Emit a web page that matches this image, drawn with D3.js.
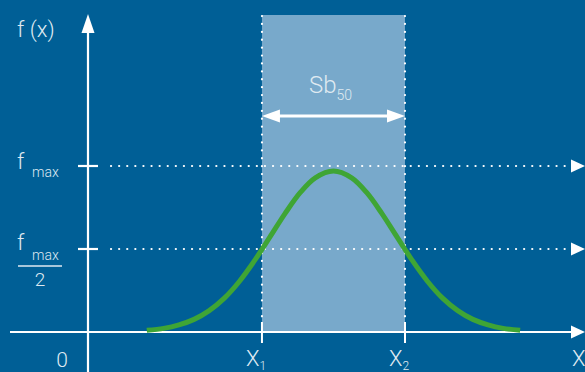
<!DOCTYPE html>
<html>
<head>
<meta charset="utf-8">
<script src="https://cdn.jsdelivr.net/npm/d3@7"></script>
<style>
html,body{margin:0;padding:0;background:#005f96;}
svg{display:block;}
text{font-family:Roboto,"Open Sans",sans-serif;font-weight:300;fill:#dfe9f1;}
</style>
</head>
<body>
<svg id="chart" width="585" height="372"></svg>
<script>
// ---- data (x in abscissa units, f relative to f max) ----
const curveX = [0.97, 1.25, 1.5, 1.75, 2.0, 2.25, 2.5, 2.75, 3.0, 3.25, 3.5, 3.75, 4.05, 4.35, 4.6, 4.85, 5.1, 5.35, 5.6, 5.85, 6.1, 6.35, 6.6, 6.85, 7.13];
const curveF = [0.010, 0.022, 0.043, 0.076, 0.129, 0.204, 0.306, 0.431, 0.571, 0.713, 0.839, 0.929, 0.97, 0.929, 0.839, 0.713, 0.571, 0.431, 0.306, 0.204, 0.129, 0.076, 0.043, 0.022, 0.010];
const bandX = [2.87, 5.23];           // X1, X2
const levelF = [1, 0.5];              // f max, f max / 2
const xTickLabels = ["X", "X", "X"];
const xTickSubs = ["1", "2", ""];
const bandLabel = "Sb";
const bandSub = "50";

const svg = d3.select("#chart");
const W = 585, H = 372;
const x = d3.scaleLinear().domain([0, 8.2]).range([88, 585]);
const y = d3.scaleLinear().domain([0, 1]).range([332, 166]);
const topY = 15;
const white = "#ffffff";

// shaded band
svg.append("rect")
  .attr("x", x(bandX[0])).attr("y", topY)
  .attr("width", x(bandX[1]) - x(bandX[0]))
  .attr("height", y(0) - topY)
  .attr("fill", "#78a9cb");

// vertical dotted band edges
bandX.forEach(v => {
  svg.append("line")
    .attr("x1", x(v)).attr("x2", x(v))
    .attr("y1", topY + 1).attr("y2", y(0) - 10)
    .attr("stroke", white).attr("stroke-width", 2.2)
    .attr("stroke-linecap", "round")
    .attr("stroke-dasharray", "0.1,7.8");
  svg.append("line")
    .attr("x1", x(v)).attr("x2", x(v))
    .attr("y1", y(0) - 10).attr("y2", y(0) + 11)
    .attr("stroke", white).attr("stroke-width", 2);
});

// horizontal dotted level lines with arrowheads
levelF.forEach(f => {
  svg.append("line")
    .attr("x1", 111).attr("x2", 568)
    .attr("y1", y(f)).attr("y2", y(f))
    .attr("stroke", white).attr("stroke-width", 2.2)
    .attr("stroke-linecap", "round")
    .attr("stroke-dasharray", "0.1,8");
  svg.append("path")
    .attr("d", `M571,${y(f) - 6.5}L585,${y(f)}L571,${y(f) + 6.5}Z`)
    .attr("fill", white);
  svg.append("line")
    .attr("x1", 78).attr("x2", 98)
    .attr("y1", y(f)).attr("y2", y(f))
    .attr("stroke", white).attr("stroke-width", 2.2);
});

// axes
svg.append("line").attr("x1", 10).attr("x2", 572).attr("y1", y(0)).attr("y2", y(0))
  .attr("stroke", white).attr("stroke-width", 2.2);
svg.append("path").attr("d", `M571,${y(0) - 6.5}L585,${y(0)}L571,${y(0) + 6.5}Z`).attr("fill", white);
svg.append("line").attr("x1", x(0)).attr("x2", x(0)).attr("y1", 30).attr("y2", H)
  .attr("stroke", white).attr("stroke-width", 2.2);
svg.append("path").attr("d", `M${x(0) - 6.5},33L${x(0)},14L${x(0) + 6.5},33Z`).attr("fill", white);

// Sb50 double arrow
const ay = 116;
svg.append("line").attr("x1", x(bandX[0]) + 12).attr("x2", x(bandX[1]) - 12)
  .attr("y1", ay).attr("y2", ay).attr("stroke", white).attr("stroke-width", 3);
svg.append("path").attr("d", `M${x(bandX[0])},${ay}L${x(bandX[0]) + 18},${ay - 6.5}L${x(bandX[0]) + 18},${ay + 6.5}Z`).attr("fill", white);
svg.append("path").attr("d", `M${x(bandX[1])},${ay}L${x(bandX[1]) - 18},${ay - 6.5}L${x(bandX[1]) - 18},${ay + 6.5}Z`).attr("fill", white);

const sb = svg.append("text").attr("x", 309).attr("y", 93).style("font-size", "24px");
sb.append("tspan").text(bandLabel);
sb.append("tspan").attr("dy", 7).style("font-size", "14px").text(bandSub);

// curve
const pts = curveX.map((v, i) => [v, curveF[i]]);
svg.append("path")
  .datum(pts)
  .attr("d", d3.line().x(d => x(d[0])).y(d => y(d[1])).curve(d3.curveCatmullRom))
  .attr("fill", "none").attr("stroke", "#3fa535").attr("stroke-width", 5);

// y labels
svg.append("text").attr("x", 17).attr("y", 37).style("font-size", "22px").text("f (x)");
const fm = svg.append("text").attr("x", 17).attr("y", 169).style("font-size", "22px");
fm.append("tspan").text("f");
fm.append("tspan").attr("x", 32).attr("dy", 8).style("font-size", "14px").text("max");
const fh = svg.append("text").attr("x", 17).attr("y", 250).style("font-size", "22px");
fh.append("tspan").text("f");
fh.append("tspan").attr("x", 32).attr("dy", 10).style("font-size", "14px").text("max");
svg.append("line").attr("x1", 18).attr("x2", 62).attr("y1", 266).attr("y2", 266)
  .attr("stroke", "#dfe9f1").attr("stroke-width", 1.5);
svg.append("text").attr("x", 40).attr("y", 286).attr("text-anchor", "middle").style("font-size", "19px").text("2");

// x labels
svg.append("text").attr("x", 62).attr("y", 367).attr("text-anchor", "middle").style("font-size", "21px").text("0");
const xPos = [x(bandX[0]), x(bandX[1]), 585];
xTickLabels.forEach((t, i) => {
  const tx = svg.append("text").attr("x", xPos[i] - 16 + (i === 2 ? 3 : 0)).attr("y", 366).style("font-size", "22px");
  tx.append("tspan").text(t);
  if (xTickSubs[i]) tx.append("tspan").attr("dy", 4).style("font-size", "12px").text(xTickSubs[i]);
});
</script>
</body>
</html>
